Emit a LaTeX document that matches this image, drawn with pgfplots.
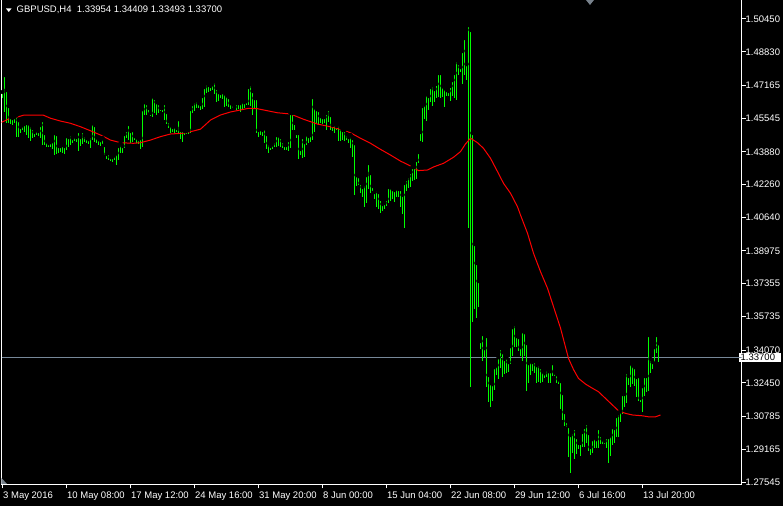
\documentclass[border=0pt]{standalone}
\usepackage{fontspec}
\setmainfont{Liberation Sans}
\usepackage{pgfplots}
\usepackage{pgfplotstable}
\pgfplotsset{compat=1.18}
\definecolor{mtgreen}{RGB}{0,255,0}
\definecolor{mtred}{RGB}{255,0,0}
\definecolor{bidgray}{RGB}{119,136,153}
\definecolor{markgray}{RGB}{120,130,140}
\pgfplotstableread{
k high low
0 1.4684 1.4654
1 1.4768 1.4585
2 1.4694 1.4531
3 1.4615 1.4531
4 1.4560 1.4526
5 1.4555 1.4521
6 1.4560 1.4531
7 1.4570 1.4461
8 1.4545 1.4461
9 1.4511 1.4481
10 1.4521 1.4496
11 1.4526 1.4486
12 1.4531 1.4471
13 1.4531 1.4456
14 1.4521 1.4441
15 1.4506 1.4456
16 1.4486 1.4461
17 1.4496 1.4471
18 1.4491 1.4466
19 1.4521 1.4456
20 1.4545 1.4422
21 1.4481 1.4422
22 1.4441 1.4412
23 1.4431 1.4412
24 1.4436 1.4412
25 1.4441 1.4402
26 1.4481 1.4372
27 1.4476 1.4377
28 1.4417 1.4382
29 1.4417 1.4387
30 1.4422 1.4382
31 1.4417 1.4377
32 1.4466 1.4397
33 1.4461 1.4412
34 1.4476 1.4422
35 1.4456 1.4431
36 1.4466 1.4441
37 1.4461 1.4436
38 1.4491 1.4392
39 1.4461 1.4417
40 1.4491 1.4426
41 1.4471 1.4436
42 1.4456 1.4431
43 1.4451 1.4426
44 1.4466 1.4407
45 1.4531 1.4446
46 1.4521 1.4436
47 1.4461 1.4431
48 1.4451 1.4422
49 1.4446 1.4417
50 1.4456 1.4426
51 1.4422 1.4372
52 1.4377 1.4352
53 1.4382 1.4348
54 1.4362 1.4343
55 1.4362 1.4338
56 1.4372 1.4348
57 1.4382 1.4323
58 1.4417 1.4348
59 1.4431 1.4382
60 1.4417 1.4382
61 1.4476 1.4407
62 1.4496 1.4456
63 1.4526 1.4446
64 1.4491 1.4431
65 1.4496 1.4436
66 1.4466 1.4446
67 1.4461 1.4431
68 1.4451 1.4426
69 1.4456 1.4402
70 1.4599 1.4412
71 1.4634 1.4570
72 1.4629 1.4570
73 1.4605 1.4580
74 1.4580 1.4565
75 1.4664 1.4560
76 1.4654 1.4580
77 1.4634 1.4570
78 1.4629 1.4580
79 1.4605 1.4590
80 1.4605 1.4585
81 1.4629 1.4545
82 1.4585 1.4526
83 1.4540 1.4506
84 1.4521 1.4481
85 1.4511 1.4486
86 1.4516 1.4481
87 1.4506 1.4486
88 1.4550 1.4481
89 1.4496 1.4451
90 1.4496 1.4436
91 1.4491 1.4471
92 1.4491 1.4476
93 1.4496 1.4476
94 1.4600 1.4481
95 1.4624 1.4580
96 1.4639 1.4590
97 1.4644 1.4605
98 1.4629 1.4605
99 1.4624 1.4595
100 1.4664 1.4600
101 1.4709 1.4610
102 1.4728 1.4679
103 1.4719 1.4684
104 1.4714 1.4689
105 1.4724 1.4694
106 1.4738 1.4674
107 1.4704 1.4634
108 1.4684 1.4639
109 1.4679 1.4654
110 1.4684 1.4649
111 1.4679 1.4610
112 1.4669 1.4615
113 1.4659 1.4610
114 1.4629 1.4600
115 1.4624 1.4605
116 1.4610 1.4600
117 1.4629 1.4595
118 1.4629 1.4600
119 1.4629 1.4585
120 1.4639 1.4595
121 1.4634 1.4605
122 1.4639 1.4619
123 1.4709 1.4619
124 1.4724 1.4615
125 1.4689 1.4570
126 1.4654 1.4600
127 1.4654 1.4481
128 1.4496 1.4461
129 1.4501 1.4471
130 1.4496 1.4466
131 1.4506 1.4431
132 1.4476 1.4402
133 1.4431 1.4382
134 1.4417 1.4397
135 1.4426 1.4402
136 1.4441 1.4412
137 1.4471 1.4412
138 1.4471 1.4417
139 1.4461 1.4412
140 1.4441 1.4407
141 1.4422 1.4397
142 1.4422 1.4397
143 1.4446 1.4392
144 1.4580 1.4407
145 1.4580 1.4496
146 1.4531 1.4496
147 1.4481 1.4456
148 1.4481 1.4352
149 1.4402 1.4372
150 1.4461 1.4357
151 1.4436 1.4362
152 1.4476 1.4422
153 1.4466 1.4431
154 1.4471 1.4436
155 1.4659 1.4446
156 1.4610 1.4486
157 1.4600 1.4531
158 1.4595 1.4521
159 1.4565 1.4531
160 1.4560 1.4526
161 1.4560 1.4531
162 1.4580 1.4496
163 1.4600 1.4536
164 1.4570 1.4496
165 1.4521 1.4491
166 1.4526 1.4481
167 1.4516 1.4496
168 1.4526 1.4441
169 1.4511 1.4441
170 1.4496 1.4446
171 1.4496 1.4441
172 1.4476 1.4446
173 1.4461 1.4431
174 1.4471 1.4407
175 1.4456 1.4362
176 1.4431 1.4174
177 1.4273 1.4218
178 1.4268 1.4223
179 1.4234 1.4184
180 1.4214 1.4164
181 1.4229 1.4115
182 1.4273 1.4135
183 1.4333 1.4204
184 1.4283 1.4184
185 1.4219 1.4194
186 1.4189 1.4155
187 1.4204 1.4115
188 1.4189 1.4105
189 1.4155 1.4085
190 1.4130 1.4095
191 1.4135 1.4105
192 1.4155 1.4120
193 1.4214 1.4135
194 1.4214 1.4145
195 1.4204 1.4155
196 1.4199 1.4140
197 1.4209 1.4164
198 1.4204 1.4164
199 1.4204 1.4115
200 1.4175 1.4080
201 1.4234 1.4011
202 1.4253 1.4194
203 1.4268 1.4209
204 1.4288 1.4214
205 1.4313 1.4244
206 1.4313 1.4249
207 1.4348 1.4253
208 1.4387 1.4333
209 1.4486 1.4441
210 1.4615 1.4436
211 1.4624 1.4550
212 1.4674 1.4540
213 1.4664 1.4595
214 1.4709 1.4634
215 1.4719 1.4615
216 1.4699 1.4634
217 1.4724 1.4654
218 1.4778 1.4659
219 1.4778 1.4654
220 1.4714 1.4659
221 1.4704 1.4610
222 1.4694 1.4664
223 1.4689 1.4664
224 1.4714 1.4639
225 1.4743 1.4664
226 1.4778 1.4654
227 1.4842 1.4644
228 1.4827 1.4768
229 1.4807 1.4783
230 1.4887 1.4723
231 1.4951 1.4768
232 1.4822 1.4743
233 1.5015 1.4011
234 1.4991 1.3225
235 1.4481 1.3546
236 1.3932 1.3610
237 1.3838 1.3566
238 1.3749 1.3620
239 1.3452 1.3412
240 1.3487 1.3353
241 1.3417 1.3373
242 1.3477 1.3225
243 1.3284 1.3150
244 1.3244 1.3126
245 1.3239 1.3155
246 1.3323 1.3209
247 1.3333 1.3284
248 1.3372 1.3264
249 1.3417 1.3318
250 1.3397 1.3274
251 1.3363 1.3288
252 1.3373 1.3293
253 1.3348 1.3298
254 1.3427 1.3338
255 1.3521 1.3378
256 1.3536 1.3422
257 1.3477 1.3422
258 1.3472 1.3402
259 1.3422 1.3378
260 1.3501 1.3353
261 1.3496 1.3378
262 1.3442 1.3204
263 1.3343 1.3244
264 1.3353 1.3284
265 1.3348 1.3303
266 1.3353 1.3293
267 1.3333 1.3244
268 1.3338 1.3249
269 1.3323 1.3244
270 1.3303 1.3249
271 1.3293 1.3269
272 1.3313 1.3274
273 1.3303 1.3244
274 1.3303 1.3244
275 1.3343 1.3279
276 1.3298 1.3279
277 1.3288 1.3244
278 1.3264 1.3239
279 1.3254 1.3115
280 1.3195 1.3061
281 1.3101 1.3032
282 1.3056 1.3027
283 1.3032 1.2878
284 1.2987 1.2799
285 1.3002 1.2898
286 1.3022 1.2868
287 1.2977 1.2893
288 1.2948 1.2918
289 1.2948 1.2883
290 1.3002 1.2928
291 1.3027 1.2928
292 1.3046 1.2948
293 1.2997 1.2908
294 1.2928 1.2888
295 1.2967 1.2898
296 1.2977 1.2923
297 1.2967 1.2923
298 1.3022 1.2923
299 1.2987 1.2943
300 1.2967 1.2943
301 1.2957 1.2943
302 1.2977 1.2923
303 1.2977 1.2849
304 1.2987 1.2883
305 1.3027 1.2938
306 1.3022 1.2948
307 1.3081 1.2977
308 1.3096 1.2977
309 1.3106 1.3051
310 1.3190 1.3091
311 1.3190 1.3126
312 1.3298 1.3145
313 1.3279 1.3234
314 1.3343 1.3225
315 1.3333 1.3239
316 1.3323 1.3229
317 1.3274 1.3175
318 1.3279 1.3155
319 1.3170 1.3150
320 1.3229 1.3101
321 1.3279 1.3180
322 1.3279 1.3199
323 1.3482 1.3204
324 1.3363 1.3293
325 1.3348 1.3313
326 1.3422 1.3348
327 1.3482 1.3392
328 1.34409 1.33493
}\bars
\begin{document}
\begin{tikzpicture}[x=1bp,y=1bp]
\fill[black] (0,0) rectangle (783,506);
\useasboundingbox (0,0) rectangle (783,506);
\begin{axis}[
  at={(1.5bp,21.5bp)}, anchor=south west,
  scale only axis, width=740bp, height=486bp,
  xmin=-0.5, xmax=369.5, ymin=1.27422, ymax=1.51464,
  axis background/.style={fill=black},
  axis line style={white, line width=1bp},
  tick align=outside, major tick length=4bp,
  tick style={white, line width=1bp},
  xtick pos=left, ytick pos=right,
  xtick={0,32,...,320},
  xticklabels={3 May 2016,10 May 08:00,17 May 12:00,24 May 16:00,31 May 20:00,8 Jun 00:00,15 Jun 04:00,22 Jun 08:00,29 Jun 12:00,6 Jul 16:00,13 Jul 20:00},
  ytick={1.5045,1.4883,1.47165,1.45545,1.4388,1.4226,1.4064,1.38975,1.37355,1.35735,1.3407,1.3245,1.30785,1.29165,1.27545},
  yticklabels={1.50450,1.48830,1.47165,1.45545,1.43880,1.42260,1.40640,1.38975,1.37355,1.35735,1.34070,1.32450,1.30785,1.29165,1.27545},
  tick label style={text=white, font=\fontsize{9.5bp}{11bp}\selectfont},
  xticklabel style={anchor=north west, inner xsep=0pt, xshift=0.5bp},
  yticklabel style={anchor=west, inner xsep=0pt},
  extra y ticks={1.337},
  extra y tick labels={1.33700},
  extra y tick style={major tick length=0pt, yticklabel style={fill=white, text=black, inner xsep=2bp, inner ysep=1.5bp, text width=38bp, align=left, xshift=-3bp}},
]
\addplot[bidgray, line width=1bp] coordinates {(-0.5,1.337) (369.5,1.337)};
\addplot[only marks, mark=none,
  error bars/.cd, y dir=minus, y explicit, error mark=none,
  error bar style={mtgreen, line width=1bp}]
  table[x=k, y=high, y error minus expr=\thisrow{high}-\thisrow{low}] {\bars};
\addplot[mtred, line width=1bp] coordinates {
(-1,1.4531) (4,1.4555) (7.5,1.4560) (10.5,1.4569) (20.5,1.4569) (24,1.4554) (29,1.4540) (34,1.4529) (39,1.4512) (44,1.4492) (49,1.4471) (54,1.4446) (59,1.4433) (65.5,1.4430) (69,1.4433) (74,1.4446) (79,1.4463) (84,1.4476) (90.5,1.4480) (95.5,1.4491) (99,1.4500) (104,1.4545) (109,1.4570) (114,1.4585) (119,1.4595) (123,1.4603) (127.5,1.4601) (132.5,1.4591) (137.5,1.4581) (144,1.4575) (150.5,1.4549) (157.5,1.4525) (164,1.4512) (169,1.4499) (174,1.4482) (179,1.4455) (184,1.4430) (189,1.4400) (194,1.4372) (199,1.4342) (204,1.4318) (208,1.4295) (212.5,1.4298) (215.5,1.4313) (220.5,1.4331) (225.5,1.4361) (229,1.4389) (231.5,1.4427) (234,1.4455) (237.5,1.4433) (240.5,1.4405) (244,1.4356) (247.5,1.4290) (250.5,1.4232) (254,1.4183) (257.5,1.4116) (259,1.4075) (262.5,1.3985) (265.5,1.3886) (269,1.3795) (272.5,1.3713) (275.5,1.3622) (279,1.3516) (281.5,1.3422) (283,1.3366) (285.5,1.3311) (288,1.3267) (291.5,1.3239) (295,1.3218) (298,1.3201) (301.5,1.3168) (305,1.3135) (308,1.3107) (311.5,1.3094) (315,1.3086) (320,1.3082) (323,1.3077) (326.5,1.3077) (329,1.3086)};
\end{axis}
\fill[white] (6,497.5) -- (11.5,497.5) -- (8.75,494) -- cycle;
\node[anchor=west, inner sep=0pt, text=white, font=\fontsize{9.5bp}{11bp}\selectfont] at (16.5,496) {GBPUSD,H4\ \ 1.33954 1.34409 1.33493 1.33700};
\fill[markgray] (586,506) -- (594,506) -- (590,501) -- cycle;
\fill[markgray] (1.5,22) -- (1.5,28) -- (7,22) -- cycle;
\end{tikzpicture}
\end{document}
